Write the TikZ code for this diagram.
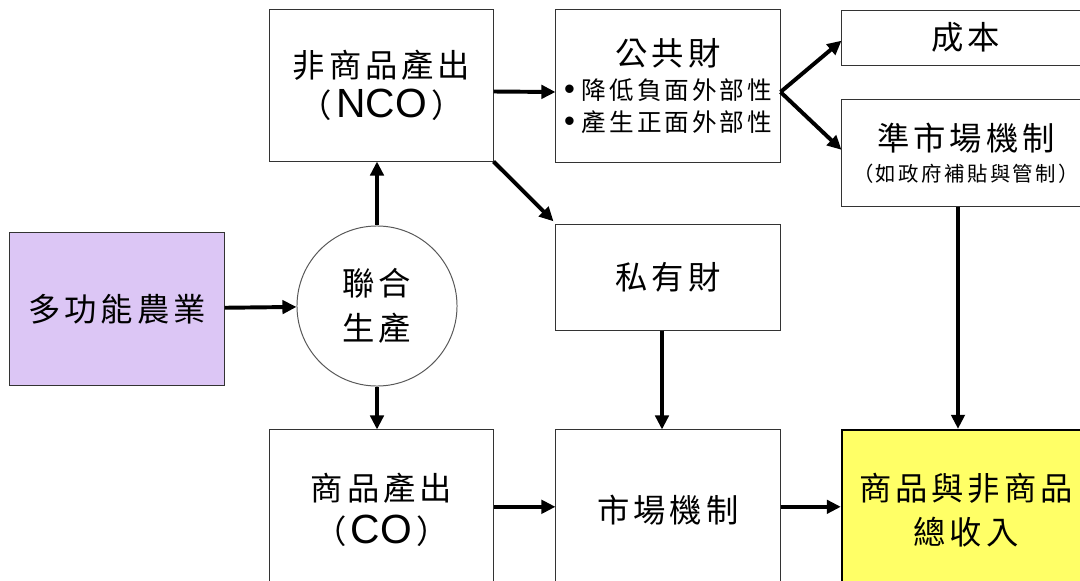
\documentclass[tikz,border=0pt]{standalone}
\usepackage{fontspec}
\setmainfont{Liberation Sans}
\newfontfamily\cjk[LetterSpace=12]{Noto Sans CJK TC}
\newfontfamily\arialfont{Liberation Sans}
\usetikzlibrary{arrows.meta,positioning}

\definecolor{lavender}{HTML}{DCC6F5}
\definecolor{paleyellow}{HTML}{FFFF66}

\begin{document}
\begin{tikzpicture}[x=0.025cm,y=-0.025cm,
  box/.style={draw=black!80,line width=0.7pt,fill=white,inner sep=0pt,align=center},
  big/.style={font=\cjk\fontsize{23}{31}\selectfont},
  link/.style={-{Triangle[length=10pt,width=9.5pt]},line width=2.8pt}]
  \clip (0,0) rectangle (1080,580);
  \fill[white] (0,0) rectangle (1080,580);

  % left part
  \node[box,big,fill=lavender,minimum width=5.35cm,minimum height=3.8cm] (agri) at (117,309) {多功能農業};
  \node[box,big,circle,draw=black!65,minimum size=4cm,font=\cjk\fontsize{23}{32}\selectfont] (joint) at (377,306) {聯合\\生產};
  \node[box,big,minimum width=5.575cm,minimum height=3.775cm] (nco) at (381.5,85.5)
    {\raisebox{-3pt}{非商品產出}\\（\hspace{3pt}{\arialfont\fontsize{29}{30}\selectfont NCO}\hspace{3pt}）};
  \node[box,big,minimum width=5.575cm,minimum height=4cm] (co) at (381.5,510)
    {商品產出\\（\hspace{3pt}{\arialfont\fontsize{29}{30}\selectfont CO}\hspace{3pt}）};

  % middle column
  \node[box,minimum width=5.6cm,minimum height=3.8cm,font=\cjk\fontsize{17.5}{23}\selectfont] (public) at (668,86)
    {\raisebox{-3pt}{{\fontsize{23}{30}\selectfont 公共財}}\\[4pt] {\arialfont\fontsize{22}{23}\selectfont\textbullet}\hspace{5pt}降低負面外部性\\ {\arialfont\fontsize{22}{23}\selectfont\textbullet}\hspace{5pt}產生正面外部性};
  \node[box,big,minimum width=5.6cm,minimum height=2.625cm] (private) at (668,277.5) {私有財};
  \node[box,big,minimum width=5.6cm,minimum height=4cm] (market) at (668,510) {市場機制};

  % right column
  \node[box,big,minimum width=6.2cm,minimum height=1.375cm] (cost) at (966,37.5) {\raisebox{-3pt}{成本}};
  \node[box,minimum width=6.2cm,minimum height=2.65cm,font=\cjk\fontsize{14.5}{20}\selectfont] (quasi) at (966,153)
    {\raisebox{-4pt}{{\fontsize{23}{30}\selectfont 準市場機制}}\\[6pt] （如政府補貼與管制）};
  \node[box,big,draw=black,line width=1.6pt,fill=paleyellow,minimum width=6.2cm,minimum height=4cm] (total) at (966,510)
    {商品與非商品\\總收入};

  % arrows
  \draw[link] (agri) -- (joint);
  \draw[link] (joint.north) -- (joint.north |- nco.south);
  \draw[link] (joint.south) -- (joint.south |- co.north);
  \draw[link] ([yshift=-0.15cm]nco.east) -- ([yshift=-0.15cm]public.west);
  \draw[link] (nco.south east) -- ([shift={(-0.05cm,0.08cm)}]private.north west);
  \draw[link] ([yshift=-0.15cm]public.east) -- ([yshift=-0.08cm]cost.west);
  \draw[link] ([yshift=-0.15cm]public.east) -- ([yshift=0.08cm]quasi.west);
  \draw[link] ([xshift=-0.2cm]quasi.south) -- ([xshift=-0.2cm]quasi.south |- total.north);
  \draw[link] ([xshift=-0.15cm]private.south) -- ([xshift=-0.15cm]private.south |- market.north);
  \draw[link] ([yshift=0.08cm]co.east) -- ([yshift=0.08cm]market.west);
  \draw[link] ([yshift=0.08cm]market.east) -- ([yshift=0.08cm]total.west);
\end{tikzpicture}
\end{document}
